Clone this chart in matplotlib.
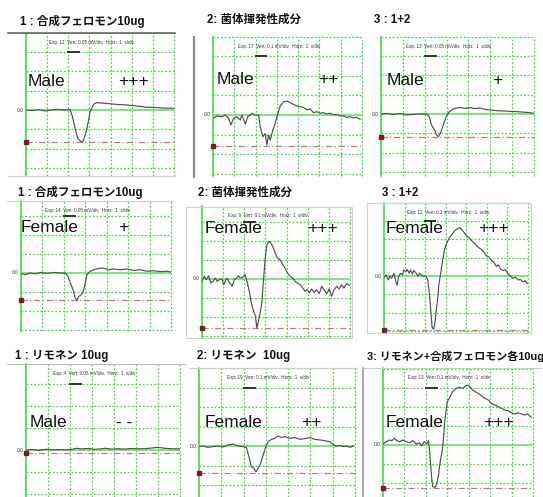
import matplotlib
matplotlib.use('Agg')
import matplotlib.pyplot as plt
from matplotlib.lines import Line2D

plt.rcParams['font.family'] = ['Liberation Sans', 'Noto Sans CJK JP', 'DejaVu Sans']

# --- data: time in s (1 s/div), response in vertical divisions ---
titles = ['1 : 合成フェロモン10ug', '2: 菌体揮発性成分', '3 : 1+2',
          '1 : 合成フェロモン10ug', '2: 菌体揮発性成分', '3 : 1+2',
          '1 : リモネン 10ug', '2: リモネン  10ug', '3: リモネン+合成フェロモン各10ug']
sexes = ['Male', 'Male', 'Male', 'Female', 'Female', 'Female', 'Male', 'Female', 'Female']
scores = ['+++', '++', '+', '+', '+++', '+++', '- -', '++', '+++']
exp_no = [12, 17, 13, 14, 9, 12, 4, 19, 13]
vert = ['0.05', '0.1', '0.05', '0.05', '0.1', '0.1', '0.05', '0.1', '0.1']
min_level = [-1.64, -1.57, -1.2, -1.43, -2.59, -2.95, -0.15, -1.37, -2.28]
stim_on, stim_off, stim_level = 2.0, 2.5, 3.0

t_a = [0.0, 0.3, 0.6, 0.9, 1.2, 1.5, 1.8, 2.08, 2.2, 2.3, 2.45, 2.6, 2.7, 2.8, 2.9, 3.03, 3.2, 3.35,
       3.82, 4.29, 4.76, 5.24, 5.71, 6.03, 6.5, 6.97]
v_a = [0.0, -0.03, 0.02, -0.05, 0.0, 0.03, 0.0, 0.02, -0.35, -0.86, -1.47, -1.64, -1.62, -1.3, -0.86,
       -0.1, 0.3, 0.38, 0.34, 0.29, 0.26, 0.21, 0.14, 0.14, 0.10, 0.09]

t_b = [0.00, 0.19, 0.42, 0.58, 0.73, 0.84, 0.97, 1.13, 1.28, 1.36, 1.52, 1.63, 1.75, 1.83, 1.98, 2.14,
       2.22, 2.34, 2.45, 2.53, 2.61, 2.69, 2.81, 2.92, 3.03, 3.16, 3.31, 3.47, 3.63, 3.78, 3.94, 4.09,
       4.25, 4.41, 4.56, 4.72, 4.88, 5.03, 5.19, 5.34, 5.50, 5.66, 5.81, 5.97, 6.13, 6.28, 6.44, 6.59,
       6.75, 6.91]
v_b = [-0.17, -0.05, -0.09, 0.00, -0.17, -0.51, -0.17, -0.09, -0.26, 0.00, -0.46, -0.09, 0.00, 0.09,
       0.00, 0.00, -0.60, -1.11, -0.94, -1.53, -1.02, -1.28, -0.77, -0.43, 0.00, 0.46, 0.68, 0.71, 0.63,
       0.54, 0.46, 0.43, 0.39, 0.26, 0.32, 0.12, 0.17, 0.09, 0.12, 0.05, 0.09, 0.00, 0.03, -0.05, -0.05,
       -0.12, -0.09, -0.15, -0.12, -0.22]

t_c = [0.00, 0.26, 0.56, 0.87, 1.17, 1.48, 1.78, 2.09, 2.21, 2.31, 2.47, 2.54, 2.62, 2.72, 2.85, 2.97,
       3.09, 3.23, 3.38, 3.61, 3.84, 4.06, 4.29, 4.52, 4.75, 4.98, 5.28, 5.59, 5.89, 6.19, 6.50, 6.80,
       7.00]
v_c = [0.00, 0.03, -0.03, 0.03, -0.05, -0.02, 0.00, 0.00, -0.14, -0.57, -0.86, -1.09, -1.17, -1.00,
       -0.57, -0.17, 0.07, 0.21, 0.29, 0.34, 0.29, 0.33, 0.28, 0.31, 0.24, 0.21, 0.17, 0.16, 0.14, 0.12,
       0.10, 0.07, 0.03]

t_d = [0.00, 0.20, 0.44, 0.67, 0.90, 1.21, 1.52, 1.84, 2.07, 2.19, 2.30, 2.43, 2.53, 2.61, 2.69, 2.77,
       2.89, 3.00, 3.08, 3.20, 3.39, 3.62, 3.86, 4.09, 4.32, 4.63, 4.95, 5.26, 5.57, 5.88, 6.19, 6.50,
       6.81, 7.00]
v_d = [-0.03, -0.09, 0.00, -0.05, 0.03, -0.02, 0.03, 0.00, 0.00, -0.17, -0.52, -0.87, -1.30, -1.43,
       -1.22, -1.18, -1.04, -0.52, -0.09, 0.07, 0.17, 0.24, 0.26, 0.17, 0.21, 0.17, 0.21, 0.14, 0.17,
       0.09, 0.12, 0.07, 0.09, 0.05]

t_e = [0.00, 0.11, 0.20, 0.31, 0.42, 0.52, 0.63, 0.71, 0.83, 0.94, 1.02, 1.10, 1.18, 1.31, 1.42, 1.53,
       1.65, 1.73, 1.81, 1.93, 2.04, 2.15, 2.25, 2.33, 2.44, 2.53, 2.59, 2.67, 2.75, 2.83, 2.91, 2.99,
       3.07, 3.16, 3.25, 3.35, 3.46, 3.57, 3.69, 3.82, 3.93, 4.04, 4.17, 4.29, 4.40, 4.51, 4.64, 4.76,
       4.87, 4.98, 5.08, 5.19, 5.30, 5.42, 5.55, 5.66, 5.77, 5.90, 6.02, 6.13, 6.24, 6.37, 6.49, 6.60,
       6.71, 6.84, 6.97]
v_e = [-0.12, 0.14, -0.03, 0.17, -0.21, -0.12, 0.05, -0.12, -0.03, 0.00, -0.30, -0.12, 0.05, -0.21,
       -0.38, -0.03, 0.05, 0.17, 0.05, 0.10, 0.23, -0.21, -0.73, -1.25, -1.69, -1.95, -2.57, -2.21,
       -1.77, -1.25, -0.03, 1.10, 1.79, 1.97, 1.88, 1.70, 1.36, 1.10, 1.01, 0.75, 0.57, 0.31, 0.14,
       0.05, -0.12, -0.21, -0.30, -0.47, -0.64, -0.56, -0.73, -0.52, -0.70, -0.56, -0.77, -0.38, -0.56,
       -0.77, -0.52, -0.90, -0.59, -0.38, -0.52, -0.30, -0.47, -0.24, -0.35]

t_f = [0.00, 0.10, 0.21, 0.29, 0.37, 0.48, 0.58, 0.64, 0.71, 0.80, 0.90, 0.96, 1.06, 1.12, 1.22, 1.28,
       1.38, 1.44, 1.54, 1.65, 1.73, 1.81, 1.93, 2.05, 2.13, 2.22, 2.30, 2.34, 2.41, 2.47, 2.54, 2.62,
       2.66, 2.73, 2.83, 2.94, 3.05, 3.18, 3.31, 3.43, 3.58, 3.69, 3.79, 3.90, 4.01, 4.14, 4.27, 4.38,
       4.49, 4.62, 4.75, 4.86, 4.98, 5.10, 5.23, 5.35, 5.46, 5.55, 5.67, 5.78, 5.91, 6.04, 6.15, 6.26,
       6.39, 6.52, 6.63, 6.74, 6.87, 6.97]
v_f = [-0.07, 0.06, -0.22, 0.00, -0.13, 0.15, -0.31, -0.50, -0.04, 0.15, 0.06, 0.33, 0.24, 0.37, 0.15,
       0.33, 0.11, 0.30, 0.19, 0.00, 0.15, 0.06, 0.00, -0.04, -0.22, -1.15, -2.26, -2.81, -2.91, -2.63,
       -1.89, -1.15, -0.50, -0.04, 0.70, 1.44, 1.81, 2.09, 2.28, 2.46, 2.59, 2.65, 2.52, 2.37, 2.19,
       2.09, 1.91, 1.81, 1.67, 1.54, 1.44, 1.30, 1.11, 1.04, 0.85, 0.74, 0.52, 0.61, 0.37, 0.30, 0.33,
       0.11, 0.00, -0.13, -0.07, -0.22, -0.19, -0.31, -0.26, -0.41]

t_g = [0.0, 0.3, 0.6, 0.9, 1.2, 1.5, 1.8, 2.1, 2.3, 2.5, 2.8, 3.1, 3.4, 3.6, 3.9, 4.2, 4.5, 4.8, 5.1,
       5.4, 5.7, 6.0, 6.3, 6.6, 7.0]
v_g = [0.0, 0.02, -0.02, 0.03, 0.01, 0.02, 0.0, 0.03, 0.08, 0.05, 0.07, 0.03, 0.05, 0.08, 0.04, 0.06,
       0.04, 0.07, 0.05, 0.06, 0.09, 0.12, 0.08, 0.06, 0.05]

t_h = [0.00, 0.18, 0.40, 0.63, 0.85, 1.08, 1.30, 1.53, 1.75, 1.98, 2.13, 2.20, 2.28, 2.35, 2.46, 2.55,
       2.65, 2.76, 2.88, 3.00, 3.10, 3.25, 3.40, 3.55, 3.70, 3.85, 4.08, 4.30, 4.53, 4.75, 4.98, 5.20,
       5.43, 5.65, 5.88, 6.03, 6.18, 6.33, 6.48, 6.63, 6.78, 6.93]
v_h = [-0.03, 0.00, -0.07, -0.03, 0.00, -0.05, 0.05, 0.10, 0.00, -0.03, -0.07, -0.38, -0.72, -1.06,
       -1.15, -1.32, -1.15, -0.89, -0.46, -0.03, 0.22, 0.34, 0.39, 0.51, 0.44, 0.48, 0.39, 0.43, 0.34,
       0.38, 0.43, 0.34, 0.31, 0.27, 0.22, 0.05, 0.00, 0.03, -0.03, 0.00, -0.07, 0.00]

t_i = [0.00, 0.15, 0.31, 0.42, 0.53, 0.65, 0.77, 0.93, 1.08, 1.24, 1.39, 1.55, 1.70, 1.81, 1.92, 2.04,
       2.12, 2.17, 2.23, 2.28, 2.32, 2.43, 2.51, 2.59, 2.66, 2.79, 2.89, 3.00, 3.13, 3.25, 3.41, 3.56,
       3.72, 3.82, 3.93, 4.06, 4.18, 4.30, 4.44, 4.60, 4.75, 4.91, 5.06, 5.22, 5.37, 5.53, 5.68, 5.84,
       5.99, 6.15, 6.30, 6.46, 6.61, 6.76, 6.92]
v_i = [0.05, 0.18, 0.26, 0.23, 0.35, 0.23, 0.18, 0.26, 0.18, 0.12, 0.23, 0.05, 0.12, -0.05, 0.18, 0.05,
       0.23, -0.26, -1.14, -1.84, -2.19, -2.23, -2.02, -1.58, -0.96, -0.09, 1.32, 2.28, 2.54, 2.81,
       2.98, 3.04, 2.98, 3.07, 3.16, 3.07, 2.89, 2.81, 2.72, 2.58, 2.46, 2.37, 2.19, 2.11, 2.02, 1.93,
       1.84, 1.81, 1.70, 1.63, 1.70, 1.63, 1.58, 1.63, 1.46]

times = [t_a, t_b, t_c, t_d, t_e, t_f, t_g, t_h, t_i]
values = [v_a, v_b, v_c, v_d, v_e, v_f, v_g, v_h, v_i]

# --- layout in pixels: left, right, top, bottom, baseline y, px per div ---
W, H = 543, 497
boxes = [(26, 174, 33, 176, 110, 19.3), (213, 362, 37, 176, 115, 19.6), (381, 534, 37, 176, 114, 19.3),
         (21, 171, 201, 331, 273, 19.1), (202, 350, 206, 337, 279, 19.1), (384, 528, 203, 332, 276, 18.3),
         (26, 180, 364, 497, 450, 22.0), (199, 355, 368, 497, 446, 19.5), (383, 533, 368, 497, 445, 19.0)]
title_pos = [(20, 21), (207, 20), (374, 20), (18, 192), (198, 193), (382, 193),
             (15, 356), (197, 356), (367, 356)]
title_size = [8.3, 8.3, 8.3, 8.3, 8.3, 8.3, 8.3, 8.3, 7.9]
label_pos = [(0.1, 1.5, 4.36), (0.19, 1.79, 4.93), (0.27, 1.76, 5.1),
             (0.0, 2.36, 4.53), (0.14, 2.62, 4.95), (0.1, 2.57, 4.56),
             (0.18, 1.27, 4.1), (0.27, 1.23, 4.6), (0.14, 1.21, 4.65)]

GREEN = '#3fdc3f'
fig = plt.figure(figsize=(W / 100, H / 100), dpi=100)

# screenshot frame edges
frame_lines = [((8, 175), (33, 33), '#666666', 1.2), ((8, 175), (176, 176), '#d0d0d0', 0.8),
               ((194, 194), (37, 177), '#8a8a8a', 1.6),
               ((7, 172), (201, 201), '#cccccc', 0.8),
               ((186, 352, 352, 186, 186), (207, 207, 338, 338, 207), '#d0d0d0', 0.8),
               ((367, 531, 531, 367, 367), (203, 203, 333, 333, 203), '#d0d0d0', 0.8),
               ((7, 185), (364, 364), '#bbbbbb', 0.8), ((190, 357), (368, 368), '#cccccc', 0.8),
               ((363, 363), (368, 497), '#999999', 1.2), ((363, 541), (368, 368), '#cccccc', 0.8)]
for xs, ys, c, lw in frame_lines:
    fig.add_artist(Line2D([x / W for x in xs], [1 - y / H for y in ys], color=c, lw=lw))

for i in range(9):
    l, r, t, b, base, div = boxes[i]
    ax = fig.add_axes([l / W, 1 - b / H, (r - l) / W, (b - t) / H])
    ymin, ymax = (base - b) / div, (base - t) / div
    ax.set_xlim(0, 7)
    ax.set_ylim(ymin, ymax)
    ax.axis('off')

    for k in range(1, 8):
        ax.axvline(k, color=GREEN, lw=0.9, ls=(0, (1.5, 1.5)), clip_on=False)
    for k in range(-3, 5):
        if k != 0 and ymin - 0.05 <= k <= ymax + 0.05:
            ax.axhline(k, color=GREEN, lw=0.9, ls=(0, (1.5, 1.5)), clip_on=False)
    ax.axvline(0, color=GREEN, lw=1.2, clip_on=False)
    ax.axhline(0, color='#66e266', lw=1.2)

    ax.axhline(min_level[i], color='#c07a7a', lw=0.9, ls=(0, (5, 2, 1, 2)))
    ax.plot(0, min_level[i], 's', color='#7a1a3a', ms=2.5, clip_on=False)

    ax.plot(times[i], values[i], color='#505050', lw=0.85)

    ax.plot([stim_on, stim_off], [stim_level, stim_level], color='#333333', lw=1.4)
    ax.annotate(f'Exp: {exp_no[i]}  Vert: {vert[i]} mV/div,  Horz:  1  s/div',
                xy=(3.1, 1), xycoords=('data', 'axes fraction'), xytext=(0, -7),
                textcoords='offset points', ha='center', va='center', fontsize=3.3, color='#333333')
    ax.text(-0.1, 0, '0.0', ha='right', va='center', fontsize=3.5, color='#333333')

    lx, ly, sx = label_pos[i]
    ax.text(lx, ly, sexes[i], ha='left', va='center', fontsize=12.5, color='#111111')
    ax.text(sx, ly, scores[i], ha='left', va='center', fontsize=12.5, color='#111111')

    tx, ty = title_pos[i]
    fig.text(tx / W, 1 - ty / H, titles[i], ha='left', va='center', fontsize=title_size[i],
             fontweight='bold', color='#111111')

fig.savefig('out.png', dpi=100)
